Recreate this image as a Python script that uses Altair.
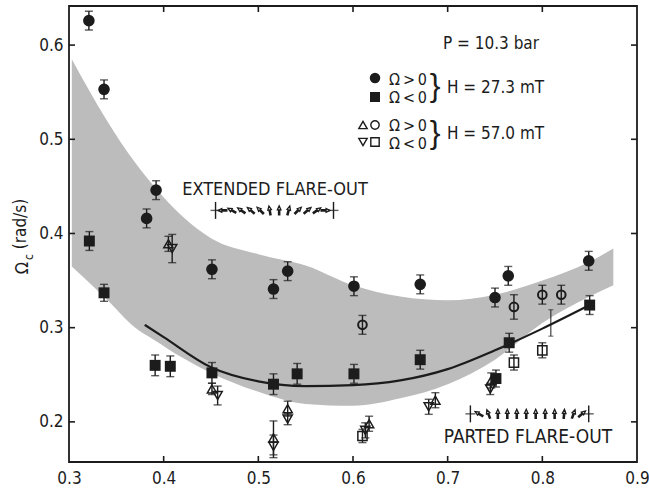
import altair as alt
import pandas as pd

# ---------------- data ----------------
# H = 27.3 mT, dOmega/dt > 0 (filled circles)
fc_x = [0.321, 0.337, 0.382, 0.392, 0.451, 0.516, 0.531, 0.601, 0.671, 0.750, 0.764, 0.849]
fc_y = [0.626, 0.553, 0.416, 0.446, 0.362, 0.341, 0.360, 0.344, 0.346, 0.332, 0.355, 0.371]
fc_e = [0.010, 0.010, 0.010, 0.010, 0.010, 0.010, 0.010, 0.010, 0.010, 0.010, 0.010, 0.010]
# H = 27.3 mT, dOmega/dt < 0 (filled squares)
fs_x = [0.3215, 0.337, 0.391, 0.407, 0.451, 0.516, 0.541, 0.601, 0.671, 0.751, 0.765, 0.850]
fs_y = [0.392, 0.337, 0.260, 0.259, 0.252, 0.240, 0.251, 0.251, 0.266, 0.246, 0.284, 0.324]
fs_e = [0.010, 0.009, 0.011, 0.011, 0.011, 0.011, 0.011, 0.010, 0.010, 0.009, 0.010, 0.010]
# H = 57.0 mT, dOmega/dt > 0 (open up-triangles, open circles)
tu_x = [0.405, 0.451, 0.516, 0.531, 0.617, 0.687, 0.746]
tu_y = [0.389, 0.235, 0.183, 0.214, 0.198, 0.223, 0.244]
tu_e = [0.008, 0.006, 0.018, 0.008, 0.008, 0.008, 0.008]
oc_x = [0.610, 0.770, 0.800, 0.820]
oc_y = [0.303, 0.322, 0.335, 0.335]
oc_e = [0.010, 0.013, 0.010, 0.010]
# H = 57.0 mT, dOmega/dt < 0 (open down-triangles, open squares)
td_x = [0.409, 0.457, 0.516, 0.531, 0.613, 0.680, 0.745]
td_y = [0.384, 0.228, 0.174, 0.203, 0.191, 0.216, 0.235]
td_e = [0.015, 0.010, 0.012, 0.006, 0.008, 0.008, 0.006]
os_x = [0.610, 0.770, 0.800]
os_y = [0.185, 0.263, 0.276]
os_e = [0.007, 0.008, 0.008]
# typical error bar
te_x = [0.809]
te_y = [0.305]
te_e = [0.014]
# solid curve
cv_x = [0.38, 0.40, 0.45, 0.50, 0.55, 0.60, 0.65, 0.70, 0.75, 0.80, 0.85]
cv_y = [0.303, 0.290, 0.258, 0.243, 0.238, 0.239, 0.244, 0.256, 0.276, 0.299, 0.324]
# shaded band
bd_x = [0.303, 0.34, 0.37, 0.39, 0.42, 0.45, 0.50, 0.55, 0.60, 0.65, 0.70, 0.75, 0.80, 0.85, 0.875]
bd_hi = [0.585, 0.520, 0.475, 0.450, 0.418, 0.395, 0.378, 0.366, 0.345, 0.333, 0.329, 0.335, 0.350, 0.370, 0.384]
bd_lo = [0.365, 0.330, 0.300, 0.287, 0.268, 0.252, 0.232, 0.219, 0.217, 0.225, 0.240, 0.266, 0.305, 0.333, 0.345]
# flare-out arrow rows
ext_x = [0.462, 0.472, 0.482, 0.492, 0.502, 0.512, 0.522, 0.532, 0.542, 0.552, 0.562, 0.571]
ext_a = [270, 300, 305, 310, 315, 350, 0, 15, 45, 50, 55, 90]
ext_ends = [0.4548, 0.5794]
ext_yv = 0.4245
par_x = [0.733, 0.743, 0.753, 0.763, 0.773, 0.783, 0.793, 0.803, 0.813, 0.823, 0.833, 0.842]
par_a = [300, 340, 0, 0, 0, 0, 0, 0, 0, 5, 20, 50]
par_ends = [0.724, 0.849]
par_yv = 0.2085

x_ticks = [0.3, 0.4, 0.5, 0.6, 0.7, 0.8, 0.9]
y_ticks = [0.2, 0.3, 0.4, 0.5, 0.6]

# ---------------- layout ----------------
X_DOM = [0.3, 0.9]
Y_DOM = [0.1574, 0.6415]
W, H = 568, 456
FONT = "DejaVu Sans Condensed, Liberation Sans Narrow, DejaVu Sans"
INK = "#1c1c1c"

xs = alt.Scale(domain=X_DOM, nice=False, zero=False)
ys = alt.Scale(domain=Y_DOM, nice=False, zero=False)
xaxis = alt.Axis(values=x_ticks, format=".1f", ticks=False, domain=False, grid=False, labelFlush=False,
                 labelFontSize=17, labelFont=FONT, labelColor=INK, labelPadding=8, title=None)
yaxis = alt.Axis(values=y_ticks, format=".1f", ticks=False, domain=False, grid=False, labelFlush=False,
                 labelFontSize=17, labelFont=FONT, labelColor=INK, labelPadding=6, title=None)


def X(f="x"):
    return alt.X(f"{f}:Q", scale=xs, axis=xaxis)


def Y(f="y"):
    return alt.Y(f"{f}:Q", scale=ys, axis=yaxis)


def series(xv, yv, ev):
    d = pd.DataFrame({"x": xv, "y": yv, "e": ev})
    d["lo"] = d["y"] - d["e"]
    d["hi"] = d["y"] + d["e"]
    return d


layers = []

band = pd.DataFrame({"x": bd_x, "hi": bd_hi, "lo": bd_lo})
layers.append(alt.Chart(band).mark_area(color="#bcbcbc", opacity=1, interpolate="monotone")
              .encode(x=X(), y=Y("hi"), y2="lo:Q"))

curve = pd.DataFrame({"x": cv_x, "y": cv_y})
layers.append(alt.Chart(curve).mark_line(color=INK, strokeWidth=2.2, interpolate="monotone")
              .encode(x=X(), y=Y()))

# inward ticks
tlx = 6 / W * (X_DOM[1] - X_DOM[0])
tly = 6 / H * (Y_DOM[1] - Y_DOM[0])
inner_x = [v for v in x_ticks if X_DOM[0] < v < X_DOM[1]]
tk = []
for v in inner_x:
    tk.append({"x": v, "x2": v, "y": Y_DOM[0], "y2": Y_DOM[0] + tly})
    tk.append({"x": v, "x2": v, "y": Y_DOM[1] - tly, "y2": Y_DOM[1]})
for v in y_ticks:
    tk.append({"x": X_DOM[0], "x2": X_DOM[0] + tlx, "y": v, "y2": v})
    tk.append({"x": X_DOM[1] - tlx, "x2": X_DOM[1], "y": v, "y2": v})
layers.append(alt.Chart(pd.DataFrame(tk)).mark_rule(color=INK, strokeWidth=1.6)
              .encode(x=X(), x2="x2:Q", y=Y(), y2="y2:Q"))


def with_errors(d, cap=8, sw=1.4):
    out = []
    out.append(alt.Chart(d).mark_rule(color=INK, strokeWidth=sw).encode(x=X(), y=Y("lo"), y2="hi:Q"))
    out.append(alt.Chart(d).mark_tick(orient="horizontal", color=INK, size=cap, thickness=sw)
               .encode(x=X(), y=Y("lo")))
    out.append(alt.Chart(d).mark_tick(orient="horizontal", color=INK, size=cap, thickness=sw)
               .encode(x=X(), y=Y("hi")))
    return out


for xv, yv, ev in [(fc_x, fc_y, fc_e), (fs_x, fs_y, fs_e), (tu_x, tu_y, tu_e),
                   (td_x, td_y, td_e), (oc_x, oc_y, oc_e), (os_x, os_y, os_e)]:
    layers += with_errors(series(xv, yv, ev))
layers += with_errors(series(te_x, te_y, te_e), cap=5, sw=1.0)

layers.append(alt.Chart(series(fc_x, fc_y, fc_e)).mark_point(shape="circle", filled=True, size=135, color=INK, opacity=1)
              .encode(x=X(), y=Y()))
layers.append(alt.Chart(series(fs_x, fs_y, fs_e)).mark_point(shape="square", filled=True, size=120, color=INK, opacity=1)
              .encode(x=X(), y=Y()))
layers.append(alt.Chart(series(tu_x, tu_y, tu_e)).mark_point(shape="triangle-up", filled=False, size=85, color=INK, strokeWidth=1.5, opacity=1)
              .encode(x=X(), y=Y()))
layers.append(alt.Chart(series(td_x, td_y, td_e)).mark_point(shape="triangle-down", filled=False, size=85, color=INK, strokeWidth=1.5, opacity=1)
              .encode(x=X(), y=Y()))
layers.append(alt.Chart(series(oc_x, oc_y, oc_e)).mark_point(shape="circle", filled=False, size=75, color=INK, strokeWidth=2, opacity=1)
              .encode(x=X(), y=Y()))
layers.append(alt.Chart(series(os_x, os_y, os_e)).mark_point(shape="square", filled=False, size=85, color=INK, strokeWidth=1.5, opacity=1)
              .encode(x=X(), y=Y()))

# flare-out arrow rows
for ax_, aa, ends, yv in [(ext_x, ext_a, ext_ends, ext_yv), (par_x, par_a, par_ends, par_yv)]:
    ad = pd.DataFrame({"x": ax_, "y": [yv] * len(ax_), "a": aa})
    layers.append(alt.Chart(ad).mark_point(shape="arrow", filled=False, size=80, color=INK,
                                           strokeWidth=1.3, opacity=1)
                  .encode(x=X(), y=Y(), angle=alt.Angle("a:Q", scale=None)))
    ed = pd.DataFrame({"x": ends, "y": [yv] * 2, "lo": [yv - 0.009] * 2, "hi": [yv + 0.009] * 2})
    layers.append(alt.Chart(ed).mark_rule(color=INK, strokeWidth=1.4).encode(x=X(), y=Y("lo"), y2="hi:Q"))
    layers.append(alt.Chart(ed).mark_tick(orient="horizontal", color=INK, size=10, thickness=1.4)
                  .encode(x=X(), y=Y()))

# ---------------- text annotations (pixel positions in plot area) ----------------
ONE = alt.Data(values=[{}])


def txt(t, x, y, size=17, align="center", baseline="middle", angle=None, font=FONT):
    kw = dict(text=t, fontSize=size, font=font, align=align, baseline=baseline, color=INK)
    if angle is not None:
        kw["angle"] = angle
    return alt.Chart(ONE).mark_text(**kw).encode(x=alt.value(x), y=alt.value(y))


def sym(shape, x, y, filled, size):
    return alt.Chart(ONE).mark_point(shape=shape, filled=filled, size=size, color=INK,
                                     strokeWidth=1.4, opacity=1).encode(x=alt.value(x), y=alt.value(y))


BRACE_FONT = "Liberation Sans"
POS = "Ω̇\u2009>\u20090"
NEG = "Ω̇\u2009<\u20090"
layers += [
    txt("EXTENDED FLARE-OUT", 206, 184, size=18),
    txt("PARTED FLARE-OUT", 459, 431, size=19),
    txt("P = 10.3 bar", 422, 38, size=17),
    sym("circle", 306, 72, True, 110),
    txt(POS, 320, 79, align="left", baseline="alphabetic", size=16),
    sym("square", 306, 91, True, 100),
    txt(NEG, 320, 97, align="left", baseline="alphabetic", size=16),
    txt("}", 366, 80, size=32, font=BRACE_FONT),
    txt("H = 27.3 mT", 378, 87, align="left", baseline="alphabetic"),
    sym("triangle-up", 294, 119, False, 70),
    sym("circle", 306, 119, False, 70),
    txt(POS, 320, 125, align="left", baseline="alphabetic", size=16),
    sym("triangle-down", 294, 136, False, 70),
    sym("square", 306, 136, False, 70),
    txt(NEG, 320, 143, align="left", baseline="alphabetic", size=16),
    txt("}", 366, 127, size=32, font=BRACE_FONT),
    txt("H = 57.0 mT", 378, 133, align="left", baseline="alphabetic"),
    # y title
    txt("Ω", -46, 262, size=18, angle=270),
    txt("c", -40, 251, size=12, angle=270),
    txt("(rad/s)", -48, 218, size=17, angle=270),
]

chart = alt.layer(*layers).properties(
    width=W, height=H,
    autosize=alt.AutoSizeParams(type="none"),
    padding={"left": 69, "top": 6, "right": 12, "bottom": 33},
    background="white",
).configure_view(stroke=INK, strokeWidth=1.8)

chart.save("out.html", embed_options={"renderer": "svg", "actions": False})
